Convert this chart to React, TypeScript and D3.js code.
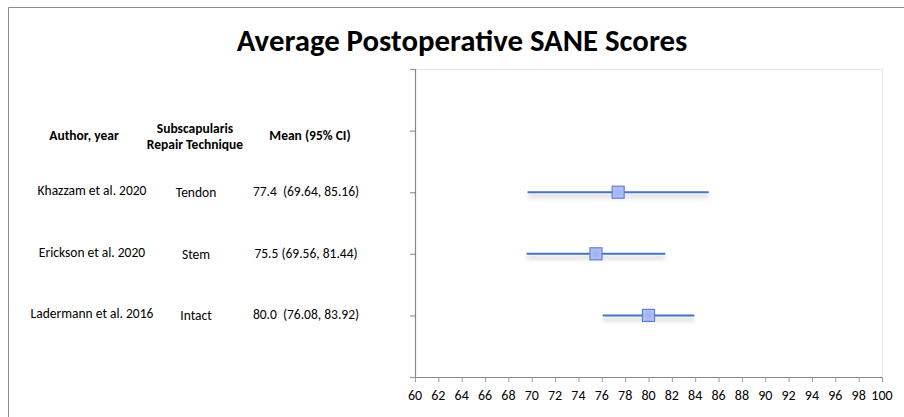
import React from "react";
import * as d3 from "d3";

const authors = ["Khazzam et al. 2020", "Erickson et al. 2020", "Ladermann et al. 2016"];
const techniques = ["Tendon", "Stem", "Intact"];
const means = [77.4, 75.5, 80.0];
const lows = [69.64, 69.56, 76.08];
const highs = [85.16, 81.44, 83.92];
const ciLabels = ["77.4  (69.64, 85.16)", "75.5 (69.56, 81.44)", "80.0  (76.08, 83.92)"];
const rowPositions = [3, 2, 1];
const xTicks = d3.range(60, 101, 2);
const yTicks = [0, 1, 2, 3, 4, 5];
const title = "Average Postoperative SANE Scores";
const headers = ["Author, year", "Subscapularis", "Repair Technique", "Mean (95% CI)"];

const W = 904;
const H = 417;
const FONT = "Carlito, Calibri, Lato, 'Liberation Sans', sans-serif";

export default function App() {
  const x = d3.scaleLinear().domain([60, 100]).range([415, 882]);
  const y = d3.scaleLinear().domain([0, 5]).range([377, 69]);
  const colAuthor = 92;
  const colTech = 196;
  const colMean = 306;

  return (
    <svg width={W} height={H} style={{ position: "absolute", left: 0, top: 0, background: "#fff" }}>
      <defs>
        <filter id="sh" filterUnits="userSpaceOnUse" x="0" y="0" width={W} height={H}>
          <feDropShadow dx="0" dy="4" stdDeviation="2" floodColor="#000" floodOpacity="0.25" />
        </filter>
        <radialGradient id="mk" cx="50%" cy="50%" r="60%">
          <stop offset="0%" stopColor="#9cb0f0" />
          <stop offset="100%" stopColor="#b9c6f0" />
        </radialGradient>
      </defs>
      {/* outer border */}
      <path d={`M8.5,${H} V7.5 H${W}`} fill="none" stroke="#8c8c8c" strokeWidth={1} />
      {/* title */}
      <text x={462} y={51} textAnchor="middle" fontFamily={FONT} fontWeight="bold" fontSize={30.8} fill="#000">
        {title}
      </text>
      {/* plot border */}
      <path d={`M${x(60)},${y(5) + 0.5} H${x(100) + 0.5} V${y(0)}`} fill="none" stroke="#e3e8f0" strokeWidth={1} />
      {/* y axis */}
      <line x1={x(60) + 0.5} x2={x(60) + 0.5} y1={y(5)} y2={y(0)} stroke="#888" strokeWidth={1.2} />
      {yTicks.map((t) => (
        <line key={"yt" + t} x1={x(60) - 5} x2={x(60)} y1={y(t) + 0.5} y2={y(t) + 0.5} stroke="#999" strokeWidth={1.2} />
      ))}
      {/* x axis */}
      <line x1={x(60)} x2={x(100)} y1={y(0) + 0.5} y2={y(0) + 0.5} stroke="#888" strokeWidth={1.2} />
      {xTicks.map((t) => (
        <g key={"xt" + t}>
          <line x1={x(t) + 0.5} x2={x(t) + 0.5} y1={y(0)} y2={y(0) + 5} stroke="#999" strokeWidth={1} />
          <text x={x(t)} y={y(0) + 23} textAnchor="middle" fontFamily={FONT} fontSize={14} fill="#000">
            {t}
          </text>
        </g>
      ))}
      {/* CI lines and markers */}
      {means.map((m, i) => {
        const cy = y(rowPositions[i]);
        return (
          <g key={"r" + i}>
            <line x1={x(lows[i])} x2={x(highs[i])} y1={cy} y2={cy} stroke="#4472c4" strokeWidth={2} filter="url(#sh)" />
            <rect x={x(m) - 6} y={cy - 6} width={12} height={12} fill="url(#mk)" stroke="#5b7fd6" strokeWidth={1.2} />
          </g>
        );
      })}
      {/* headers */}
      <g fontFamily={FONT} fontWeight="bold" fontSize={13.5} fill="#000" textAnchor="middle">
        <text x={84} y={140}>{headers[0]}</text>
        <text x={195} y={133}>{headers[1]}</text>
        <text x={195} y={149}>{headers[2]}</text>
        <text x={310} y={140}>{headers[3]}</text>
      </g>
      {/* table rows */}
      <g fontFamily={FONT} fontSize={13.5} fill="#000" textAnchor="middle">
        {authors.map((a, i) => {
          const cy = y(rowPositions[i]);
          return (
            <g key={"t" + i}>
              <text x={colAuthor} y={cy + 3}>{a}</text>
              <text x={colTech} y={cy + 5}>{techniques[i]}</text>
              <text x={colMean} y={cy + 4} style={{ whiteSpace: "pre" }}>{ciLabels[i]}</text>
            </g>
          );
        })}
      </g>
    </svg>
  );
}
